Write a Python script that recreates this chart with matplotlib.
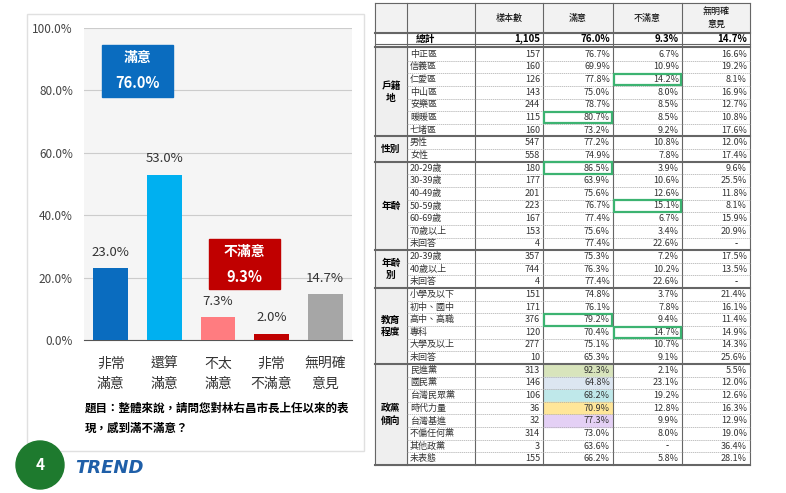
import matplotlib.pyplot as plt
from matplotlib.patches import Rectangle, Circle

plt.rcParams['font.family'] = ['Noto Sans CJK TC', 'DejaVu Sans']

# ---- bar chart data ----
categories = ['非常\n滿意', '還算\n滿意', '不太\n滿意', '非常\n不滿意', '無明確\n意見']
values = [23.0, 53.0, 7.3, 2.0, 14.7]
bar_colors = ['#0a6cbf', '#00b0f0', '#ff7c80', '#c00000', '#a6a6a6']
yticks = [0, 20, 40, 60, 80, 100]

# ---- table data ----
headers = ['樣本數', '滿意', '不滿意', '無明確\n意見']
total_row = ['1,105', '76.0%', '9.3%', '14.7%']
groups = [('戶籍\n地', 7), ('性別', 2), ('年齡', 7), ('年齡\n別', 3), ('教育\n程度', 6), ('政黨\n傾向', 8)]
row_labels = ['中正區', '信義區', '仁愛區', '中山區', '安樂區', '暖暖區', '七堵區',
              '男性', '女性',
              '20-29歲', '30-39歲', '40-49歲', '50-59歲', '60-69歲', '70歲以上', '未回答',
              '20-39歲', '40歲以上', '未回答',
              '小學及以下', '初中、國中', '高中、高職', '專科', '大學及以上', '未回答',
              '民進黨', '國民黨', '台灣民眾黨', '時代力量', '台灣基進', '不偏任何黨', '其他政黨', '未表態']
n_sample = [157, 160, 126, 143, 244, 115, 160, 547, 558, 180, 177, 201, 223, 167, 153, 4,
            357, 744, 4, 151, 171, 376, 120, 277, 10, 313, 146, 106, 36, 32, 314, 3, 155]
satisfied = ['76.7%', '69.9%', '77.8%', '75.0%', '78.7%', '80.7%', '73.2%', '77.2%', '74.9%',
             '86.5%', '63.9%', '75.6%', '76.7%', '77.4%', '75.6%', '77.4%', '75.3%', '76.3%', '77.4%',
             '74.8%', '76.1%', '79.2%', '70.4%', '75.1%', '65.3%',
             '92.3%', '64.8%', '68.2%', '70.9%', '77.3%', '73.0%', '63.6%', '66.2%']
unsatisfied = ['6.7%', '10.9%', '14.2%', '8.0%', '8.5%', '8.5%', '9.2%', '10.8%', '7.8%',
               '3.9%', '10.6%', '12.6%', '15.1%', '6.7%', '3.4%', '22.6%', '7.2%', '10.2%', '22.6%',
               '3.7%', '7.8%', '9.4%', '14.7%', '10.7%', '9.1%',
               '2.1%', '23.1%', '19.2%', '12.8%', '9.9%', '8.0%', '-', '5.8%']
no_opinion = ['16.6%', '19.2%', '8.1%', '16.9%', '12.7%', '10.8%', '17.6%', '12.0%', '17.4%',
              '9.6%', '25.5%', '11.8%', '8.1%', '15.9%', '20.9%', '-', '17.5%', '13.5%', '-',
              '21.4%', '16.1%', '11.4%', '14.9%', '14.3%', '25.6%',
              '5.5%', '12.0%', '12.6%', '16.3%', '12.9%', '19.0%', '36.4%', '28.1%']
# highlighted cells: (row index, column index 1=滿意 2=不滿意)
highlights = [(2, 2), (5, 1), (9, 1), (12, 2), (21, 1), (22, 2)]
party_fill = {25: '#d8e4bc', 26: '#dce6f1', 27: '#bfe8ea', 28: '#ffe699', 29: '#e4d0f5'}

fig = plt.figure(figsize=(7.86, 4.93), dpi=100)
W, H = 786, 493

# ---- bar chart ----
ax = fig.add_axes([84 / W, (H - 340) / H, 268 / W, 312 / H])
ax.set_facecolor('#f5f5f5')
x = range(len(categories))
bars = ax.bar(x, values, width=0.65, color=bar_colors, zorder=3)
for b, v in zip(bars, values):
    ax.text(b.get_x() + b.get_width() / 2, v + 3, f'{v:.1f}%', ha='center', va='bottom',
            fontsize=9.5, color='#333333')
ax.set_xlim(-0.5, 4.5)
ax.set_ylim(0, 100)
ax.set_yticks(yticks)
ax.set_yticklabels([f'{t:.1f}%' for t in yticks], fontsize=8.5, color='#444444')
ax.set_xticks(list(x))
ax.set_xticklabels(categories, fontsize=10, color='#333333', linespacing=1.6)
ax.tick_params(length=0, pad=12)
ax.tick_params(axis='y', pad=8)
ax.grid(axis='y', color='#cccccc', lw=0.8, zorder=0)
for s in ['top', 'right', 'left']:
    ax.spines[s].set_visible(False)
ax.spines['bottom'].set_color('#555555')

# overlay axes in pixel coordinates, drawn above the chart
bg = fig.add_axes([0, 0, 1, 1])
bg.set_xlim(0, W)
bg.set_ylim(H, 0)
bg.axis('off')
bg.patch.set_alpha(0)
bg.add_patch(Rectangle((27, 14), 337, 437, fill=False, ec='#e0e0e0', lw=1))

bg.add_patch(Rectangle((102, 45), 71, 52, color='#0a6cbf', zorder=5))
bg.text(137.5, 58, '滿意', ha='center', va='center', color='white', fontsize=10, fontweight='bold', zorder=6)
bg.text(137.5, 83, '76.0%', ha='center', va='center', color='white', fontsize=10.5, fontweight='bold', zorder=6)
bg.add_patch(Rectangle((209, 239), 71, 50, color='#c00000', zorder=5))
bg.text(244.5, 252, '不滿意', ha='center', va='center', color='white', fontsize=10, fontweight='bold', zorder=6)
bg.text(244.5, 277, '9.3%', ha='center', va='center', color='white', fontsize=10.5, fontweight='bold', zorder=6)

bg.text(85, 408, '題目：整體來說，請問您對林右昌市長上任以來的表', fontsize=8.3, fontweight='bold', va='center')
bg.text(85, 428, '現，感到滿不滿意？', fontsize=8.3, fontweight='bold', va='center')

bg.add_patch(Circle((40, 465), 24, color='#1e7a2e', zorder=5))
bg.text(40, 465, '4', color='white', fontsize=11, fontweight='bold', ha='center', va='center', zorder=6)
bg.text(75, 468, 'TREND', color='#1f5fa8', fontsize=13, fontweight='bold', fontstyle='italic',
        family='DejaVu Sans', va='center')

# ---- table ----
cols = [375, 407, 475, 543, 613, 682, 750]
top, hdr_bot, tot_bot, row0 = 3, 33, 44, 48
rh = (465 - row0) / len(row_labels)
line = '#666666'

bg.add_patch(Rectangle((cols[0], top), cols[-1] - cols[0], hdr_bot - top, color='#f2f2f2'))
bg.add_patch(Rectangle((cols[0], row0), cols[1] - cols[0], 465 - row0, color='#efefef'))
for i, h in enumerate(headers):
    bg.text((cols[i + 2] + cols[i + 3]) / 2, (top + hdr_bot) / 2, h, ha='center', va='center',
            fontsize=6.5, linespacing=1.6)
for c in cols:
    bg.plot([c, c], [top, 465], color=line, lw=0.8)
bg.plot([cols[0], cols[-1]], [top, top], color=line, lw=0.8)
bg.plot([cols[0], cols[-1]], [hdr_bot, hdr_bot], color=line, lw=1.5)
bg.plot([cols[0], cols[-1]], [tot_bot, tot_bot], color=line, lw=0.8)
bg.plot([cols[0], cols[-1]], [row0 - 1, row0 - 1], color=line, lw=1.5)
bg.text((cols[0] + cols[2]) / 2, (hdr_bot + tot_bot) / 2, '總計', ha='center', va='center',
        fontsize=7, fontweight='bold')
for i, v in enumerate(total_row):
    bg.text(cols[i + 3] - 3, (hdr_bot + tot_bot) / 2, v, ha='right', va='center',
            fontsize=7, fontweight='bold')

r = 0
for name, n in groups:
    y0 = row0 + r * rh
    bg.text((cols[0] + cols[1]) / 2, y0 + n * rh / 2, name, ha='center', va='center',
            fontsize=7, fontweight='bold', linespacing=1.3)
    bg.plot([cols[0], cols[-1]], [y0 + n * rh] * 2, color=line, lw=1.5)
    for k in range(1, n):
        bg.plot([cols[1], cols[-1]], [y0 + k * rh] * 2, color='#aaaaaa', lw=0.5, ls=(0, (2, 1)))
    r += n

for i, lab in enumerate(row_labels):
    yc = row0 + (i + 0.5) * rh
    if i in party_fill:
        bg.add_patch(Rectangle((cols[3] + 1, yc - rh / 2 + 0.5), cols[4] - cols[3] - 2, rh - 1,
                               color=party_fill[i], zorder=1))
    bg.text(cols[1] + 3, yc, lab, ha='left', va='center', fontsize=6.5, color='#333333')
    vals = [str(n_sample[i]), satisfied[i], unsatisfied[i], no_opinion[i]]
    for j, v in enumerate(vals):
        if v == '-':
            bg.text((cols[j + 2] + cols[j + 3]) / 2 + 20, yc, v, ha='center', va='center', fontsize=6.5)
        else:
            bg.text(cols[j + 3] - 3, yc, v, ha='right', va='center', fontsize=6.5, color='#333333',
                    zorder=3)

for i, j in highlights:
    y0 = row0 + i * rh
    bg.add_patch(Rectangle((cols[j + 2] + 1, y0 + 0.5), cols[j + 3] - cols[j + 2] - 2, rh - 1,
                           fill=False, ec='#3cb371', lw=1.6, zorder=4))

fig.savefig('out.png', dpi=100, facecolor='white')
